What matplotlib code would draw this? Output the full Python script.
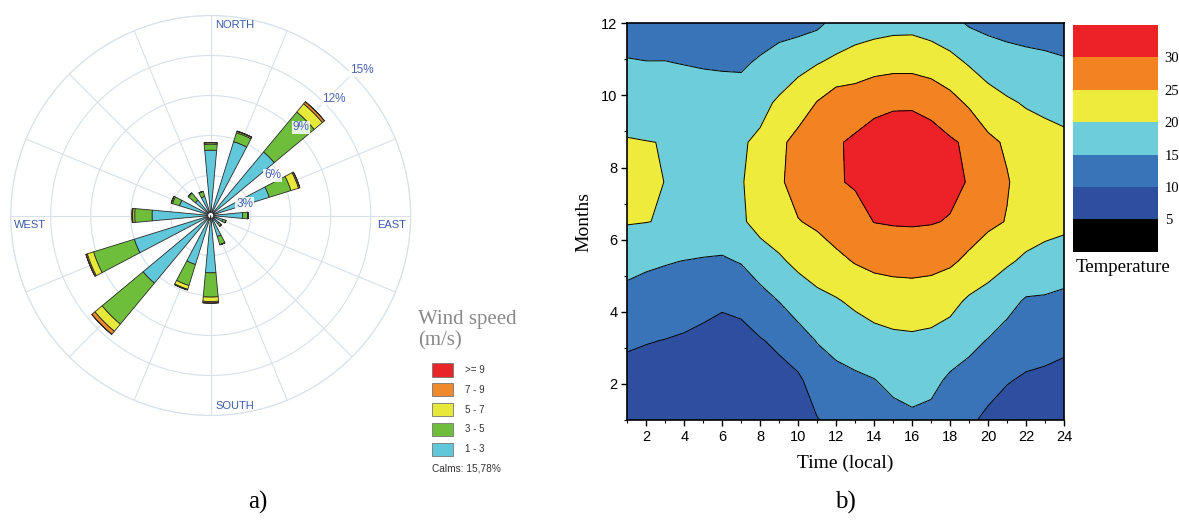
import numpy as np
import matplotlib
matplotlib.use("Agg")
import matplotlib.pyplot as plt
from matplotlib.patches import Rectangle

# ---------------- data: wind rose ----------------
directions = ["N", "NNE", "NE", "ENE", "E", "ESE", "SE", "SSE",
              "S", "SSW", "SW", "WSW", "W", "WNW", "NW", "NNW"]
direction_deg = [0, 22.5, 45, 67.5, 90, 112.5, 135, 157.5,
                 180, 202.5, 225, 247.5, 270, 292.5, 315, 337.5]
speed_1_3 = [4.9, 5.8, 6.2, 4.6, 2.4, 0.95, 0.8, 1.65, 4.3, 3.85, 6.6, 6.0, 4.4, 2.45, 1.5, 1.5]
speed_3_5 = [0.45, 0.7, 3.9, 1.7, 0.4, 0.25, 0.25, 0.65, 1.82, 1.65, 4.0, 3.2, 1.3, 0.55, 0.7, 0.4]
speed_5_7 = [0.1, 0.1, 0.8, 0.6, 0.0, 0.0, 0.0, 0.0, 0.33, 0.3, 0.7, 0.5, 0.15, 0.1, 0.0, 0.0]
speed_7_9 = [0.03, 0.03, 0.2, 0.1, 0.0, 0.0, 0.0, 0.0, 0.12, 0.05, 0.3, 0.1, 0.05, 0.0, 0.0, 0.0]
speed_ge9 = [0.0] * 16
speed_labels = [">= 9", "7 - 9", "5 - 7", "3 - 5", "1 - 3"]
ring_values = [3, 6, 9, 12, 15]
ring_labels = ["3%", "6%", "9%", "12%", "15%"]
calms_text = "Calms: 15,78%"

# ---------------- data: temperature contour ----------------
hours = list(range(1, 25))
month_rows = [1.0, 2.1, 3.2, 4.3, 5.4, 6.5, 7.6, 8.7, 9.8, 10.9, 12.0]
temperature = [
    [6.5, 6.2, 6.0, 6.0, 6.0, 6.0, 6.1, 6.5, 7.0, 7.6, 9.8, 11.0, 11.5, 12.0, 13.4, 14.2, 13.6, 12.1, 10.8, 9.0, 7.8, 7.5, 7.1, 6.9],
    [8.5, 8.2, 7.9, 7.7, 7.4, 7.0, 7.2, 8.1, 8.4, 9.2, 12.3, 13.6, 14.2, 14.85, 16.2, 16.7, 16.3, 14.2, 13.4, 11.8, 10.3, 9.4, 9.1, 8.5],
    [10.6, 10.2, 9.9, 9.5, 8.8, 8.5, 8.7, 9.7, 10.9, 13.1, 15.2, 16.4, 17.4, 18.3, 19.0, 19.2, 18.9, 17.9, 16.1, 14.8, 13.2, 12.2, 11.6, 11.1],
    [13.3, 12.8, 12.5, 12.0, 11.5, 10.6, 11.1, 13.3, 15.1, 17.2, 18.7, 19.6, 20.9, 22.1, 22.5, 22.7, 22.3, 21.4, 19.3, 18.2, 16.5, 14.5, 14.4, 13.9],
    [16.6, 15.8, 15.3, 14.9, 14.6, 14.4, 15.3, 17.4, 19.3, 21.1, 22.5, 23.8, 25.3, 26.2, 26.6, 26.7, 26.5, 25.7, 24.0, 22.1, 20.6, 19.2, 18.2, 17.4],
    [20.3, 20.1, 19.7, 19.0, 18.5, 18.3, 19.3, 21.8, 22.8, 24.8, 25.8, 27.5, 28.2, 30.1, 30.4, 30.5, 30.3, 29.7, 27.5, 26.0, 24.8, 22.5, 21.8, 21.3],
    [22.0, 21.2, 19.9, 19.2, 18.7, 18.5, 19.6, 22.5, 24.3, 26.9, 28.0, 29.6, 30.5, 32.0, 32.3, 32.5, 31.8, 31.2, 29.7, 27.2, 25.3, 23.2, 22.5, 22.0],
    [20.3, 20.1, 19.9, 19.0, 18.6, 18.4, 19.5, 20.9, 23.8, 26.8, 27.6, 29.5, 30.8, 31.8, 32.2, 32.4, 31.5, 30.6, 29.2, 26.0, 24.4, 22.3, 21.7, 21.2],
    [17.9, 17.6, 17.5, 16.9, 16.7, 16.5, 16.9, 18.5, 20.8, 22.0, 25.2, 27.6, 27.3, 28.8, 29.4, 29.4, 28.8, 26.6, 24.3, 22.0, 20.6, 19.6, 18.9, 18.1],
    [15.3, 15.1, 15.1, 14.9, 14.7, 14.6, 14.4, 15.6, 16.5, 18.9, 19.8, 21.0, 22.5, 23.0, 23.4, 23.4, 22.5, 21.5, 19.6, 17.9, 16.9, 16.3, 15.9, 15.4],
    [13.0, 13.2, 13.3, 13.5, 13.3, 13.2, 12.8, 12.5, 13.6, 13.0, 14.0, 16.5, 17.0, 18.0, 18.5, 18.6, 18.0, 16.5, 14.5, 13.7, 13.3, 13.1, 13.0, 13.0],
]
temp_levels = [0, 5, 10, 15, 20, 25, 30, 35]
temp_ticks = [5, 10, 15, 20, 25, 30]
x_ticks = list(range(2, 25, 2))
y_ticks = [2, 4, 6, 8, 10, 12]

# ---------------- styles ----------------
SANS = ["Liberation Sans", "DejaVu Sans"]
SERIF = ["Liberation Serif", "DejaVu Serif"]
rose_colors = ["#60C8DA", "#6EBE3C", "#E6E83A", "#EF8A2B", "#E8262A"]
temp_colors = ["#000000", "#2E4FA0", "#3A74B8", "#6DCDD8", "#EEEB3C", "#F38221", "#ED2226"]
grid_col = "#d6e1ea"
label_blue = "#3B5CA8"

fig = plt.figure(figsize=(11.79, 5.21), dpi=100)
W, H = 1179.0, 521.0

# ================= wind rose =================
ax = fig.add_axes([10.7 / W, 1 - 415.5 / H, 400 / W, 400 / H], projection="polar")
ax.set_theta_zero_location("N")
ax.set_theta_direction(-1)
theta = np.deg2rad(direction_deg)
width = np.deg2rad(10.5)
bottom = np.zeros(len(theta))
for vals, col in zip([speed_1_3, speed_3_5, speed_5_7, speed_7_9, speed_ge9], rose_colors):
    v = np.array(vals)
    ax.bar(theta, v, width=width, bottom=bottom, color=col, edgecolor="#2a2a2a",
           linewidth=0.6, zorder=3)
    bottom = bottom + v
ax.bar(0, 0.22, width=2 * np.pi, bottom=0, color="white", edgecolor="#2a2a2a",
       linewidth=0.6, zorder=6)
ax.set_ylim(0, 15)
ax.set_yticks(ring_values)
ax.set_yticklabels([])
ax.set_xticks(np.deg2rad(np.arange(0, 360, 22.5)))
ax.set_xticklabels([])
ax.grid(True, color=grid_col, linewidth=0.8)
ax.spines["polar"].set_color(grid_col)
ax.spines["polar"].set_linewidth(0.8)
ax.tick_params(length=0)

for txt, (x, y) in zip(["NORTH", "SOUTH", "WEST", "EAST"],
                       [(0.511, 0.976), (0.511, 0.024), (0.008, 0.476), (0.915, 0.476)]):
    ax.text(x, y, txt, transform=ax.transAxes, ha="left", va="center",
            fontsize=8, color=label_blue, family=SANS, zorder=8)
for txt, (x, y) in zip(ring_labels, [(0.5845, 0.5293), (0.6545, 0.6008), (0.7265, 0.7208),
                                     (0.8065, 0.7920), (0.8775, 0.8633)]):
    ax.text(x, y, txt, transform=ax.transAxes, ha="center", va="center",
            fontsize=8.5, color="#4A62B0", family=SANS, zorder=8,
            bbox=dict(boxstyle="square,pad=0.05", fc="white", ec="none", alpha=0.85))

# legend
fig.text(418 / W, 1 - 310 / H, "Wind speed\n(m/s)", ha="left", va="top", fontsize=15,
         color="#8a8a8a", family=SERIF, linespacing=1.15)
for i, (lab, col) in enumerate(zip(speed_labels, rose_colors[::-1])):
    top = 363.3 + i * 19.8
    fig.patches.append(Rectangle((431.7 / W, 1 - (top + 13.3) / H), 21.6 / W, 13.3 / H,
                                 transform=fig.transFigure, facecolor=col,
                                 edgecolor="#777777", linewidth=0.6))
    fig.text(465 / W, 1 - (top + 6.7) / H, lab, ha="left", va="center", fontsize=7,
             color="#333333", family=SANS)
fig.text(431.7 / W, 1 - 468.5 / H, calms_text, ha="left", va="center", fontsize=7.3,
         color="#333333", family=SANS)

# ================= contour =================
ax2 = fig.add_axes([627.3 / W, 1 - 420 / H, 436.7 / W, 396.7 / H])
cf = ax2.contourf(hours, month_rows, temperature, levels=temp_levels, colors=temp_colors)
ax2.contour(hours, month_rows, temperature, levels=temp_levels[1:-1], colors="black",
            linewidths=0.7)
ax2.set_xlim(1, 24)
ax2.set_ylim(1, 12)
ax2.set_xticks(x_ticks)
ax2.set_xticks(hours, minor=True)
ax2.set_yticks(y_ticks)
ax2.set_yticks(list(range(1, 13)), minor=True)
ax2.tick_params(which="major", direction="out", length=4, width=1, labelsize=10.5, pad=3)
ax2.tick_params(which="minor", direction="out", length=2.5, width=0.8)
for lab in ax2.get_xticklabels() + ax2.get_yticklabels():
    lab.set_family(SANS)
for sp in ax2.spines.values():
    sp.set_linewidth(1.2)
ax2.set_xlabel("Time (local)", family=SERIF, fontsize=14, labelpad=8)
ax2.set_ylabel("Months", family=SERIF, fontsize=14, labelpad=6)

cax = fig.add_axes([1072.7 / W, 1 - 251.7 / H, 85 / W, 226.7 / H])
cb = fig.colorbar(cf, cax=cax, ticks=temp_ticks)
cb.outline.set_visible(False)
cax.tick_params(length=0, pad=5, labelsize=10.5)
for lab in cax.get_yticklabels():
    lab.set_family(SERIF)
fig.text(1123 / W, 1 - 268 / H, "Temperature", ha="center", va="center", fontsize=13.5,
         family=SERIF)

fig.text(258 / W, 1 - 502 / H, "a)", ha="center", va="center", fontsize=18, family=SERIF)
fig.text(845 / W, 1 - 502 / H, "b)", ha="center", va="center", fontsize=18, family=SERIF)

fig.savefig("out.png", dpi=100)
